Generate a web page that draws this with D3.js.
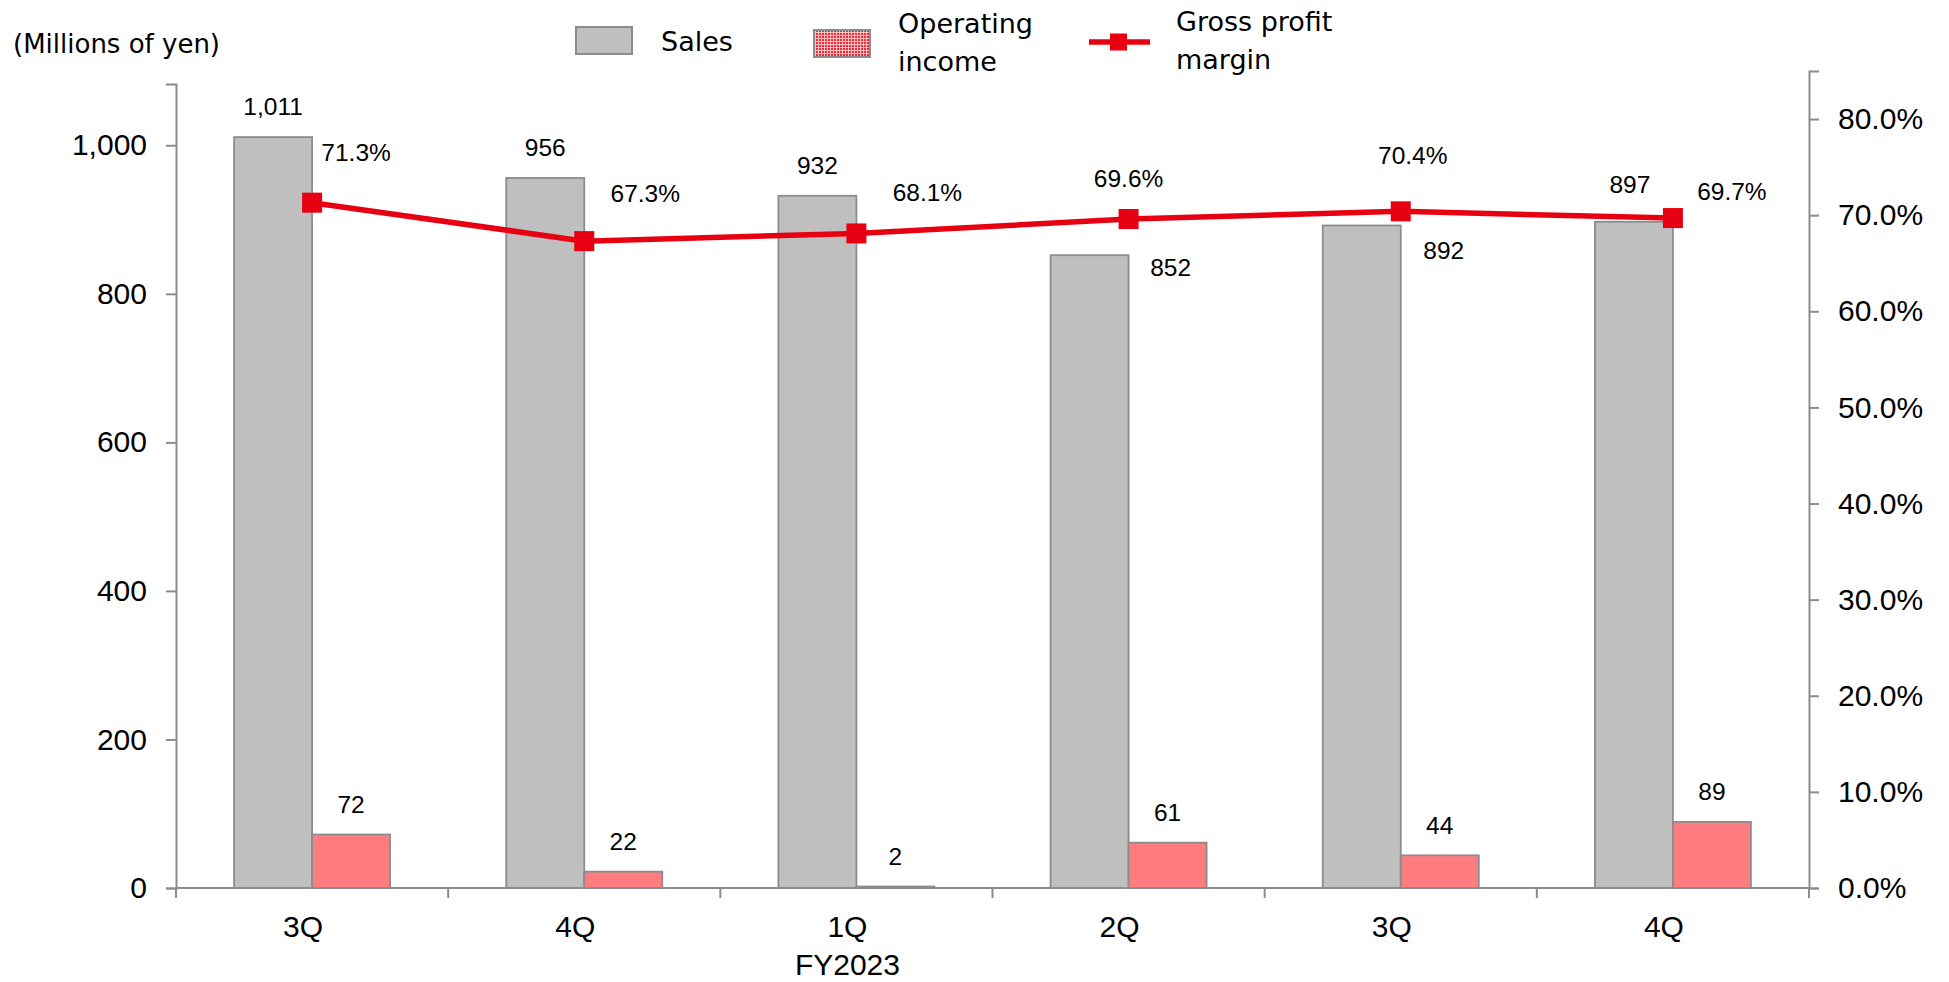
<!DOCTYPE html>
<html>
<head>
<meta charset="utf-8">
<script src="https://cdn.jsdelivr.net/npm/d3@7"></script>
<style>
  html, body { margin: 0; padding: 0; background: #fff; }
  svg { display: block; }
</style>
</head>
<body>
<svg id="chart" width="1949" height="982"></svg>
<script>
// ---------- data ----------
const categories = ["3Q", "4Q", "1Q", "2Q", "3Q", "4Q"];
const categorySubLabels = ["", "", "FY2023", "", "", ""];
const sales = [1011, 956, 932, 852, 892, 897];
const operatingIncome = [72, 22, 2, 61, 44, 89];
const grossProfitMargin = [0.713, 0.673, 0.681, 0.696, 0.704, 0.697];
const leftTicks = [0, 200, 400, 600, 800, 1000];
const rightTicks = [0, 0.1, 0.2, 0.3, 0.4, 0.5, 0.6, 0.7, 0.8];

// label placement (manual, as in the original chart)
const salesLabelOffset = [[0, -22], [0, -22], [0, -22], [81, 21], [82, 34], [-4, -29]];
const marginLabelOffset = [[44, -42], [61, -39], [71, -32], [0, -32], [12, -47], [59, -18]];

// ---------- layout ----------
const svg = d3.select("#chart");
const left = 176, right = 1809, base = 888;
const numFont = "'Liberation Sans', Arial, sans-serif";
const catFont = "'Liberation Sans', Arial, sans-serif";
const legFont = "'DejaVu Sans', Verdana, sans-serif";
const axisColor = "#8c8c8c";
const red = "#e60012";

const x = d3.scaleBand().domain(d3.range(categories.length)).range([left, right]).padding(0);
const bw = x.bandwidth() * 0.2866;
const off = (x.bandwidth() - 2 * bw) / 2;
const yL = d3.scaleLinear().domain([0, 1082.5]).range([base, 84]);
const yR = d3.scaleLinear().domain([0, 0.85]).range([base, 71]);

// defs: pattern for operating income legend
const defs = svg.append("defs");
const pat = defs.append("pattern").attr("id", "dots").attr("width", 3).attr("height", 3)
  .attr("patternUnits", "userSpaceOnUse");
pat.append("rect").attr("width", 3).attr("height", 3).attr("fill", "#ffc0c0");
pat.append("rect").attr("width", 2).attr("height", 2).attr("fill", "#ee2a3a");

// ---------- bars ----------
const g = svg.append("g");
g.selectAll("rect.sales").data(sales).join("rect")
  .attr("class", "sales")
  .attr("x", (d, i) => x(i) + off)
  .attr("y", d => yL(d))
  .attr("width", bw)
  .attr("height", d => base - yL(d))
  .attr("fill", "#bfbfbf")
  .attr("stroke", axisColor)
  .attr("stroke-width", 1.8);

g.selectAll("rect.op").data(operatingIncome).join("rect")
  .attr("class", "op")
  .attr("x", (d, i) => x(i) + off + bw)
  .attr("y", d => yL(d))
  .attr("width", bw)
  .attr("height", d => base - yL(d))
  .attr("fill", "#ff7c80")
  .attr("stroke", axisColor)
  .attr("stroke-width", 1.8);

// ---------- axes ----------
const axL = svg.append("g").attr("transform", `translate(${left},0)`)
  .call(d3.axisLeft(yL).tickValues(leftTicks).tickSize(10).tickPadding(19)
    .tickFormat(d3.format(",")));
const axR = svg.append("g").attr("transform", `translate(${right},0)`)
  .call(d3.axisRight(yR).tickValues(rightTicks).tickSize(10).tickPadding(19)
    .tickFormat(d3.format(".1%")));
[axL, axR].forEach(a => {
  a.select(".domain").attr("stroke", axisColor).attr("stroke-width", 2);
  a.selectAll(".tick line").attr("stroke", axisColor).attr("stroke-width", 2);
  a.selectAll(".tick text").attr("font-family", numFont).attr("font-size", 30).attr("fill", "#000");
});

// x axis
const xAxisG = svg.append("g");
xAxisG.append("line").attr("x1", left).attr("x2", right).attr("y1", base).attr("y2", base)
  .attr("stroke", axisColor).attr("stroke-width", 2);
xAxisG.selectAll("line.xt").data(d3.range(categories.length + 1)).join("line")
  .attr("class", "xt")
  .attr("x1", i => left + i * x.bandwidth()).attr("x2", i => left + i * x.bandwidth())
  .attr("y1", base).attr("y2", base + 10)
  .attr("stroke", axisColor).attr("stroke-width", 2);
xAxisG.selectAll("text.cat").data(categories).join("text")
  .attr("class", "cat")
  .attr("x", (d, i) => x(i) + x.bandwidth() / 2 - 9)
  .attr("y", 937)
  .attr("text-anchor", "middle")
  .attr("font-family", catFont).attr("font-size", 30).attr("fill", "#000")
  .text(d => d);
xAxisG.selectAll("text.sub").data(categorySubLabels).join("text")
  .attr("class", "sub")
  .attr("x", (d, i) => x(i) + x.bandwidth() / 2 - 9)
  .attr("y", 975)
  .attr("text-anchor", "middle")
  .attr("font-family", catFont).attr("font-size", 30).attr("fill", "#000")
  .text(d => d);

// ---------- line ----------
const cx = i => x(i) + x.bandwidth() / 2;
svg.append("path").datum(grossProfitMargin)
  .attr("fill", "none").attr("stroke", red).attr("stroke-width", 5.5)
  .attr("d", d3.line().x((d, i) => cx(i)).y(d => yR(d)));
svg.selectAll("rect.mk").data(grossProfitMargin).join("rect")
  .attr("class", "mk")
  .attr("x", (d, i) => cx(i) - 10).attr("y", d => yR(d) - 10)
  .attr("width", 20).attr("height", 20).attr("fill", red);

// ---------- data labels ----------
const lab = svg.append("g").attr("font-family", numFont).attr("font-size", 24.5).attr("fill", "#000")
  .attr("text-anchor", "middle");
lab.selectAll("text.sl").data(sales).join("text")
  .attr("x", (d, i) => x(i) + off + bw / 2 + salesLabelOffset[i][0])
  .attr("y", (d, i) => yL(d) + salesLabelOffset[i][1])
  .text(d => d3.format(",")(d));
lab.selectAll("text.ol").data(operatingIncome).join("text")
  .attr("x", (d, i) => x(i) + off + bw * 1.5)
  .attr("y", d => yL(d) - 21.5)
  .text(d => d3.format(",")(d));
lab.selectAll("text.ml").data(grossProfitMargin).join("text")
  .attr("x", (d, i) => cx(i) + marginLabelOffset[i][0])
  .attr("y", (d, i) => yR(d) + marginLabelOffset[i][1])
  .text(d => d3.format(".1%")(d));

// ---------- unit label ----------
svg.append("text").attr("x", 13).attr("y", 52.5)
  .attr("font-family", legFont).attr("font-size", 26).attr("fill", "#000")
  .text("(Millions of yen)");

// ---------- legend ----------
const leg = svg.append("g").attr("font-family", legFont).attr("font-size", 27).attr("fill", "#000");
leg.append("rect").attr("x", 576).attr("y", 27).attr("width", 56).attr("height", 27)
  .attr("fill", "#bfbfbf").attr("stroke", axisColor).attr("stroke-width", 2);
leg.append("text").attr("x", 661).attr("y", 51).text("Sales");
leg.append("rect").attr("x", 814).attr("y", 30).attr("width", 56).attr("height", 27)
  .attr("fill", "url(#dots)").attr("stroke", axisColor).attr("stroke-width", 2);
leg.append("text").attr("x", 898).attr("y", 32.5).text("Operating");
leg.append("text").attr("x", 898).attr("y", 71).text("income");
leg.append("line").attr("x1", 1089).attr("x2", 1150).attr("y1", 42).attr("y2", 42)
  .attr("stroke", red).attr("stroke-width", 5.5);
leg.append("rect").attr("x", 1110).attr("y", 33.5).attr("width", 17).attr("height", 17).attr("fill", red);
leg.append("text").attr("x", 1176).attr("y", 31).text("Gross profit");
leg.append("text").attr("x", 1176).attr("y", 69).text("margin");
</script>
</body>
</html>
